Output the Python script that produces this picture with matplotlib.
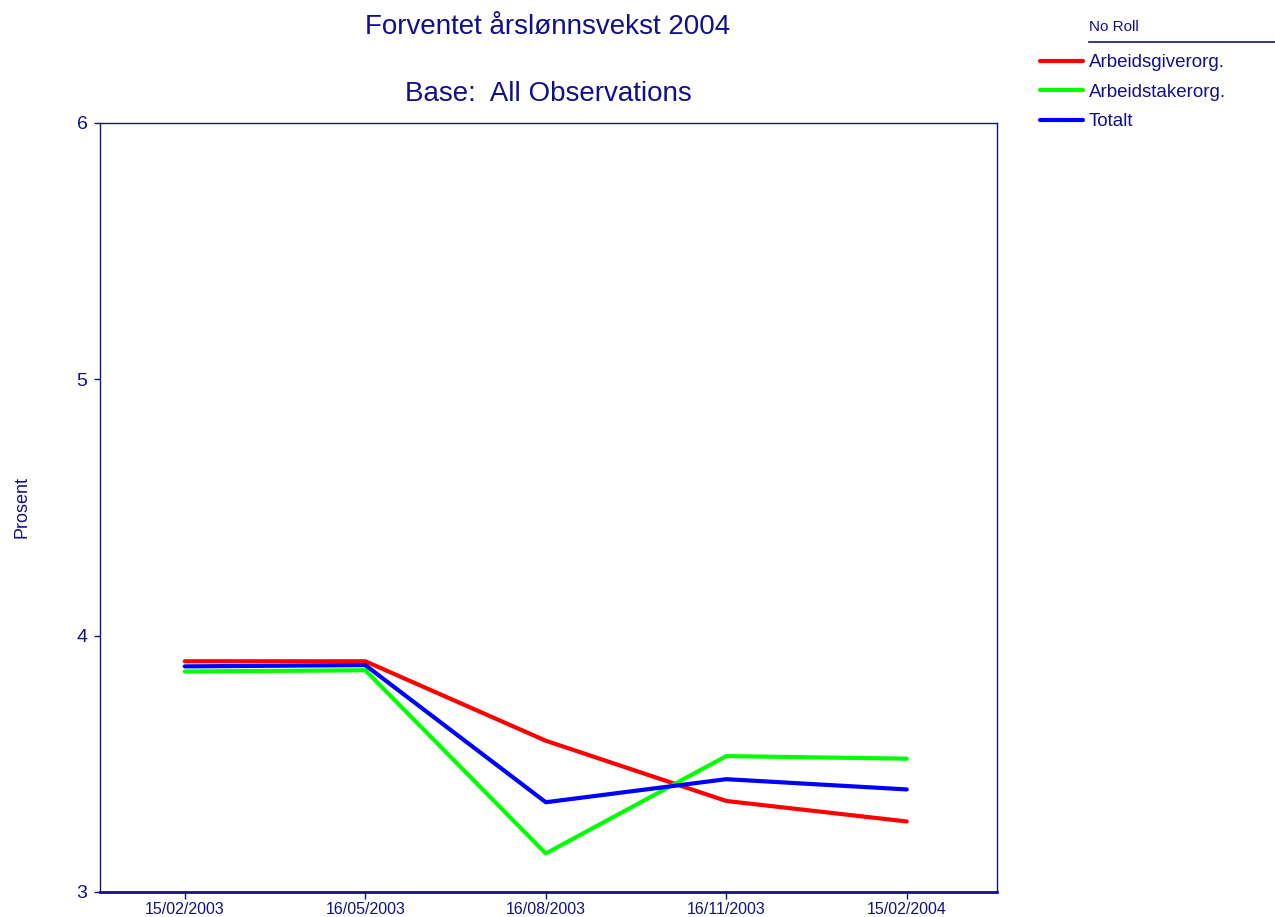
import matplotlib.pyplot as plt

plt.rcParams['font.family'] = ['Liberation Sans', 'DejaVu Sans']

dates = ["15/02/2003", "16/05/2003", "16/08/2003", "16/11/2003", "15/02/2004"]
arbeidsgiver = [3.90, 3.90, 3.59, 3.355, 3.275]
arbeidstaker = [3.86, 3.865, 3.15, 3.53, 3.52]
totalt = [3.88, 3.885, 3.35, 3.44, 3.40]

navy = '#10108a'

fig = plt.figure(figsize=(12.75, 9.17), dpi=100)
ax = fig.add_axes([0.0784, 0.0273, 0.7036, 0.8386])

x = list(range(len(dates)))
l1, = ax.plot(x, arbeidsgiver, color='#ff0000', lw=3, solid_capstyle='round')
l2, = ax.plot(x, arbeidstaker, color='#00ff00', lw=3, solid_capstyle='round')
l3, = ax.plot(x, totalt, color='#0000ff', lw=3, solid_capstyle='round')

ax.set_xlim(-0.47, 4.5)
ax.set_ylim(3, 6)
ax.set_yticks([3, 4, 5, 6])
ax.set_xticks(x)
ax.set_xticklabels(dates)
ax.tick_params(axis='x', colors=navy, labelsize=11.5, length=5, width=1, pad=2)
ax.tick_params(axis='y', colors=navy, labelsize=14, length=4, width=1, pad=5)
for s in ['left', 'top', 'right']:
    ax.spines[s].set_color(navy)
    ax.spines[s].set_linewidth(1)
ax.spines['bottom'].set_color(navy)
ax.spines['bottom'].set_linewidth(2)

ax.set_ylabel('Prosent', color=navy, fontsize=13, labelpad=33)

fig.text(548 / 1275, 1 - 27 / 917, 'Forventet årslønnsvekst 2004', color=navy,
         fontsize=20, ha='center', va='center')
fig.text(548 / 1275, 1 - 94 / 917, 'Base:  All Observations', color=navy,
         fontsize=20, ha='center', va='center')

# legend block on the right
fig.text(1089 / 1275, 1 - 27 / 917, 'No Roll', color=navy, fontsize=11,
         ha='left', va='center')
fig.add_artist(plt.Line2D([1089 / 1275, 1.0], [1 - 42 / 917, 1 - 42 / 917],
                          color=navy, lw=1.2))
leg = fig.legend([l1, l2, l3], ['Arbeidsgiverorg.', 'Arbeidstakerorg.', 'Totalt'],
                 loc='upper left', bbox_to_anchor=(1040 / 1275, 1 - 54 / 917),
                 frameon=False, fontsize=13.5, handlelength=2.3,
                 handletextpad=0.3, labelspacing=0.66, borderpad=0,
                 borderaxespad=0)
for t in leg.get_texts():
    t.set_color(navy)

fig.savefig('out.png', dpi=100)
